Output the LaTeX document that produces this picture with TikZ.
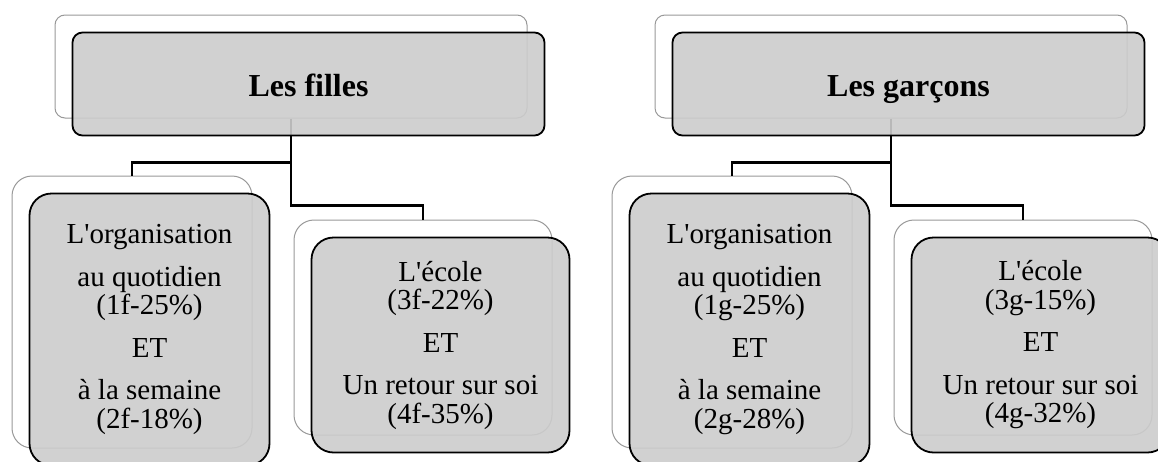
\documentclass[tikz,border=0pt]{standalone}
\usepackage{fontspec}
\setmainfont{Liberation Serif}
\usetikzlibrary{positioning}

\begin{document}
\begin{tikzpicture}[x=1pt, y=-1pt,
    backbox/.style={draw=black!40, line width=1pt, fill=white, rounded corners=10pt,
      minimum width=472pt, minimum height=103pt, inner sep=0pt},
    headbox/.style={draw=black, line width=1.8pt, fill=black!20, fill opacity=0.9, text opacity=1,
      rounded corners=10pt, minimum width=472pt, minimum height=103pt, inner sep=0pt,
      text height=24pt, text depth=0pt, font=\fontsize{32}{36}\selectfont\bfseries},
    leafback/.style={draw=black!40, line width=1pt, fill=white, rounded corners=20pt, inner sep=0pt},
    leafbox/.style={draw=black, line width=1.8pt, fill=black!20, fill opacity=0.9, text opacity=1,
      rounded corners=22pt, inner sep=0pt, align=center, font=\fontsize{29}{28.5}\selectfont},
    link/.style={draw=black, line width=2.2pt}]

    \useasboundingbox (0,0) rectangle (1158,461);
    \clip (0,0) rectangle (1158,461);

    % Les filles
    \node[backbox] (F_back) at (291,66.5) {};
    \node[leafback, minimum width=240pt, minimum height=272pt] (F_org_back) at (132,312) {};
    \node[leafback, minimum width=258pt, minimum height=215pt] (F_ecole_back) at (423,327.5) {};

    % Define the edges
    \draw[link] (F_back.south) -- ++(0,44) -| (F_org_back.north);
    \draw[link] (F_back.south) -- ++(0,87) -| (F_ecole_back.north);

    \node[headbox] (F_top) at (308.5,84) {Les filles};
    \node[leafbox, minimum width=240pt, minimum height=272pt] (F_org) at (149.5,329.5)
      {L\textquotesingle organisation\\[14pt] au quotidien\\(1f-25\%)\\[14pt] ET\\[14pt] à la semaine\\(2f-18\%)};
    \node[leafbox, minimum width=258pt, minimum height=215pt] (F_ecole) at (440.5,345)
      {L\textquotesingle école\\(3f-22\%)\\[14pt] ET\\[14pt] Un retour sur soi\\(4f-35\%)};

    % Les garcons
    \node[backbox] (G_back) at (891,66.5) {};
    \node[leafback, minimum width=240pt, minimum height=272pt] (G_org_back) at (732,312) {};
    \node[leafback, minimum width=258pt, minimum height=215pt] (G_ecole_back) at (1023,327.5) {};

    % Define the edges
    \draw[link] (G_back.south) -- ++(0,44) -| (G_org_back.north);
    \draw[link] (G_back.south) -- ++(0,87) -| (G_ecole_back.north);

    \node[headbox] (G_top) at (908.5,84) {Les garçons};
    \node[leafbox, minimum width=240pt, minimum height=272pt] (G_org) at (749.5,329.5)
      {L\textquotesingle organisation\\[14pt] au quotidien\\(1g-25\%)\\[14pt] ET\\[14pt] à la semaine\\(2g-28\%)};
    \node[leafbox, minimum width=258pt, minimum height=215pt] (G_ecole) at (1040.5,345)
      {L\textquotesingle école\\(3g-15\%)\\[14pt] ET\\[14pt] Un retour sur soi\\(4g-32\%)};
\end{tikzpicture}
\end{document}
